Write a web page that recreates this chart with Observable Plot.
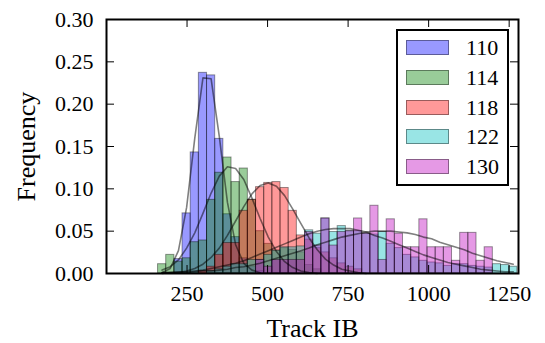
<!DOCTYPE html>
<html>
<head>
<meta charset="utf-8">
<script src="https://cdn.jsdelivr.net/npm/d3@7"></script>
<script src="https://cdn.jsdelivr.net/npm/@observablehq/plot@0.6"></script>
<style>
  body { margin: 0; background: #fff; }
  #chart { position: relative; width: 545px; height: 343px; }
  #chart svg { position: absolute; left: 0; top: 0; }
  .legend { position: absolute; box-sizing: border-box; border: 2px solid #000; background: #fff; }
  .legend .row { position: absolute; left: 0; right: 0; height: 30px; }
  .legend .swatch { position: absolute; box-sizing: border-box; width: 43px; height: 15px; border: 1px solid rgba(0,0,0,0.4); }
  .legend .name { position: absolute; font-size: 22px; line-height: 30px; }
</style>
</head>
<body>
<div id="chart"></div>
<script>
// Track IB distributions for five settings, as histogram fractions per bin
const seriesNames = ["110", "114", "118", "122", "130"];
const seriesColors = ["#0000ff", "#008000", "#ff0000", "#00bfbf", "#bf00bf"];

// common histogram binning (Track IB units)
const binStart = 160;
const binWidth = 25.35;

// fraction of entries in each bin
const freq110 = [0, 0, 0.017, 0.071, 0.143, 0.237, 0.234, 0.159, 0.070, 0.043, 0.018, 0.008, 0.003,
  0, 0, 0, 0, 0, 0, 0, 0, 0, 0, 0, 0, 0, 0, 0, 0, 0, 0, 0, 0, 0, 0, 0, 0, 0, 0, 0, 0, 0, 0, 0];
const freq114 = [0.011, 0.022, 0.014, 0.018, 0.037, 0.039, 0.087, 0.119, 0.137, 0.108, 0.124, 0.087, 0.050,
  0.035, 0.027, 0.030, 0.028, 0.025, 0.010, 0.005, 0, 0, 0, 0, 0, 0, 0, 0, 0, 0, 0, 0, 0, 0, 0, 0, 0, 0, 0, 0, 0, 0, 0, 0];
const freq118 = [0, 0, 0, 0, 0, 0.003, 0.008, 0.022, 0.036, 0.036, 0.074, 0.087, 0.102, 0.107, 0.108, 0.101,
  0.074, 0.045, 0.040, 0.030, 0.025, 0.018, 0.012, 0.008, 0.005, 0, 0, 0, 0, 0, 0, 0, 0, 0, 0, 0, 0, 0, 0, 0, 0, 0, 0, 0];
const freq122 = [0, 0, 0, 0, 0, 0, 0.003, 0.005, 0.008, 0.011, 0.011, 0.016, 0.016, 0.022, 0.027, 0.031, 0.031,
  0.032, 0.051, 0.047, 0.065, 0.049, 0.056, 0.050, 0.050, 0.047, 0.046, 0.049, 0.035, 0.030, 0.022, 0.019,
  0.015, 0.013, 0.012, 0.009, 0.011, 0.011, 0.009, 0.008, 0.007, 0.011, 0.010, 0.008];
const freq130 = [0, 0, 0, 0, 0, 0, 0, 0, 0, 0, 0, 0, 0.016, 0.008, 0.016, 0.016, 0.016, 0.016, 0.049, 0.033,
  0.065, 0.033, 0.049, 0.050, 0.065, 0.047, 0.080, 0.016, 0.064, 0.047, 0.031, 0.031, 0.064, 0.031, 0.031,
  0.031, 0.015, 0.048, 0.048, 0.015, 0.031, 0, 0, 0];

// fitted curves sampled at bin centres
const fit110 = [0.001, 0.006, 0.027, 0.078, 0.160, 0.231, 0.230, 0.162, 0.084, 0.034, 0.012, 0.004, 0.001];
const fit114 = [0.004, 0.008, 0.016, 0.030, 0.048, 0.071, 0.095, 0.115, 0.126, 0.124, 0.111, 0.089, 0.065,
  0.043, 0.026, 0.014, 0.007, 0.003, 0.001, 0.000];
const fit118 = [0.000, 0.001, 0.001, 0.003, 0.006, 0.011, 0.019, 0.030, 0.045, 0.062, 0.079, 0.094, 0.104,
  0.107, 0.103, 0.092, 0.076, 0.059, 0.042, 0.028, 0.017, 0.010, 0.005, 0.003, 0.001, 0.000];
const fit122 = [0.001, 0.001, 0.002, 0.002, 0.003, 0.004, 0.006, 0.008, 0.010, 0.012, 0.015, 0.019, 0.023,
  0.027, 0.031, 0.035, 0.039, 0.043, 0.047, 0.050, 0.052, 0.053, 0.053, 0.053, 0.051, 0.049, 0.045, 0.042,
  0.038, 0.034, 0.030, 0.026, 0.022, 0.019, 0.016, 0.013, 0.011, 0.009, 0.007, 0.005, 0.004, 0.003, 0.002, 0.002];
const fit130 = [0.001, 0.001, 0.001, 0.001, 0.002, 0.003, 0.003, 0.004, 0.005, 0.007, 0.008, 0.010, 0.012,
  0.015, 0.018, 0.021, 0.024, 0.027, 0.030, 0.034, 0.037, 0.040, 0.043, 0.045, 0.047, 0.049, 0.050, 0.050,
  0.050, 0.049, 0.048, 0.046, 0.043, 0.041, 0.037, 0.034, 0.031, 0.028, 0.024, 0.021, 0.018, 0.015, 0.013, 0.011];

const xTicks = [250, 500, 750, 1000, 1250];
const yTicks = [0, 0.05, 0.10, 0.15, 0.20, 0.25, 0.30];
const xLabel = "Track IB";
const yLabel = "Frequency";

const freqs = [freq110, freq114, freq118, freq122, freq130];
const fits = [fit110, fit114, fit118, fit122, fit130];

const bars = [];
freqs.forEach((arr, s) => arr.forEach((v, i) => {
  if (v > 0) bars.push({series: seriesNames[s], x1: binStart + i * binWidth, x2: binStart + (i + 1) * binWidth, freq: v});
}));
const curves = [];
fits.forEach((arr, s) => arr.forEach((v, i) => {
  if (v != null) curves.push({series: seriesNames[s], x: binStart + (i + 0.5) * binWidth, y: v});
}));

const W = 545, H = 343;
const mL = 106, mR = 27, mT = 19, mB = 70;
const plotW = W - mL - mR, plotH = H - mT - mB;
const tickLen = 8;
const serif = "Liberation Serif";

const chart = Plot.plot({
  width: W, height: H,
  marginLeft: mL, marginRight: mR, marginTop: mT, marginBottom: mB,
  x: {domain: [0, 1279]},
  y: {domain: [0, 0.30]},
  style: {fontSize: "22px", background: "transparent", color: "#000"},
  marks: [
    ...seriesNames.map((s, i) => Plot.rectY(bars.filter(d => d.series === s), {
      x1: "x1", x2: "x2", y: "freq", inset: 0,
      fill: seriesColors[i], fillOpacity: 0.4, stroke: "#000", strokeOpacity: 0.4, strokeWidth: 1
    })),
    ...seriesNames.map(s => Plot.line(curves.filter(d => d.series === s), {
      x: "x", y: "y", stroke: "#000", strokeOpacity: 0.5, strokeWidth: 1.6
    })),
    // inward ticks on all four sides
    Plot.tickX(xTicks, {x: d => d, insetTop: plotH - tickLen, stroke: "#000"}),
    Plot.tickX(xTicks, {x: d => d, insetBottom: plotH - tickLen, stroke: "#000"}),
    Plot.tickY(yTicks, {y: d => d, insetRight: plotW - tickLen, stroke: "#000"}),
    Plot.tickY(yTicks, {y: d => d, insetLeft: plotW - tickLen, stroke: "#000"}),
    Plot.axisX(xTicks, {tickSize: 0, tickPadding: 12, fontSize: 22, tickFormat: d => String(d), label: null}),
    Plot.axisY(yTicks, {tickSize: 0, tickPadding: 13, fontSize: 22, tickFormat: d3.format(".2f"), label: null}),
    Plot.frame({stroke: "#000", strokeWidth: 2}),
    Plot.text([xLabel], {frameAnchor: "bottom", textAnchor: "middle", lineAnchor: "bottom", dy: 63, fontSize: 26, text: d => d}),
    Plot.text([yLabel], {frameAnchor: "left", textAnchor: "middle", dx: -80, rotate: -90, fontSize: 26, text: d => d})
  ]
});

const root = document.getElementById("chart");
root.appendChild(chart);
// serif type throughout the figure
chart.setAttribute("font-family", serif);
chart.style.fontFamily = serif;
d3.select(chart).selectAll("g, text").style("font-family", serif);

// legend box
const legend = document.createElement("div");
legend.className = "legend";
Object.assign(legend.style, {left: "396px", top: "29px", width: "113px", height: "157px", fontFamily: serif});
seriesNames.forEach((name, i) => {
  const row = document.createElement("div");
  row.className = "row";
  row.style.top = (2 + i * 29.8) + "px";
  const sw = document.createElement("div");
  sw.className = "swatch";
  const c = d3.color(seriesColors[i]); c.opacity = 0.4;
  sw.style.background = c.formatRgb();
  sw.style.left = "8px";
  sw.style.top = "7px";
  const label = document.createElement("div");
  label.className = "name";
  label.textContent = name;
  label.style.left = "68px";
  label.style.top = "0px";
  label.style.fontFamily = serif;
  row.appendChild(sw);
  row.appendChild(label);
  legend.appendChild(row);
});
root.appendChild(legend);
</script>
</body>
</html>
